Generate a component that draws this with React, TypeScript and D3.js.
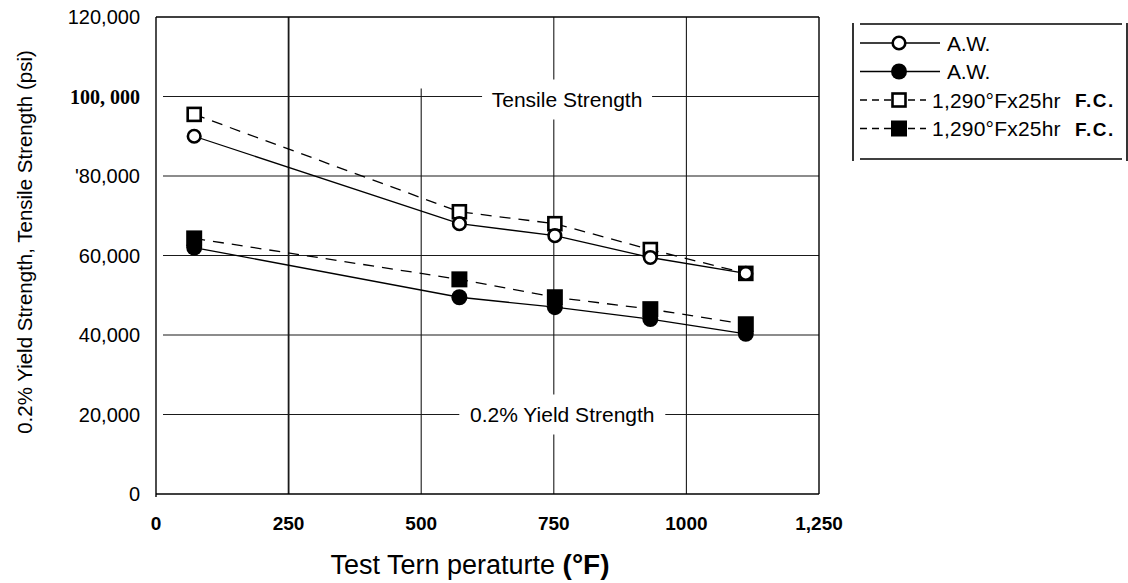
import React from "react";
import * as d3 from "d3";

// --- data ---
const TEMPS = [72, 572, 752, 932, 1112];
const TENSILE_AW = [90000, 68000, 65000, 59500, 55500];
const TENSILE_HT = [95500, 71000, 68000, 61500, 55500];
const YIELD_AW = [62000, 49500, 47000, 44000, 40300];
const YIELD_HT = [64300, 54000, 49500, 46500, 42700];

const X_TICKS = [0, 250, 500, 750, 1000, 1250];
const X_TICK_LABELS = ["0", "250", "500", "750", "1000", "1,250"];
const Y_TICKS = [0, 20000, 40000, 60000, 80000, 100000, 120000];
const Y_TICK_LABELS = ["0", "20,000", "40,000", "60,000", "'80,000", "100, 000", "120,000"];

const LEGEND_LABELS = ["A.W.", "A.W.", "1,290°Fx25hr", "1,290°Fx25hr"];

const W = 1128;
const H = 583;
const SANS = "'Liberation Sans', Arial, Helvetica, sans-serif";

export default function App() {
  const x = d3.scaleLinear().domain([0, 1250]).range([156, 819]);
  const y = d3.scaleLinear().domain([0, 120000]).range([494, 17]);

  const line = d3
    .line<number>()
    .x((_, i) => x(TEMPS[i]))
    .y((d) => y(d));

  const series = [
    { values: TENSILE_HT, dash: "11,8", marker: "sqOpen" },
    { values: TENSILE_AW, dash: null, marker: "ciOpen" },
    { values: YIELD_HT, dash: "11,8", marker: "sqFill" },
    { values: YIELD_AW, dash: null, marker: "ciFill" },
  ];

  const marker = (kind: string, cx: number, cy: number, key: any) => {
    if (kind === "sqOpen")
      return <rect key={key} x={cx - 6.5} y={cy - 6.5} width={13} height={13} fill="#fff" stroke="#000" strokeWidth={2.6} />;
    if (kind === "ciOpen")
      return <circle key={key} cx={cx} cy={cy} r={6.3} fill="#fff" stroke="#000" strokeWidth={2.6} />;
    if (kind === "sqFill")
      return <rect key={key} x={cx - 8} y={cy - 8} width={16} height={16} fill="#000" />;
    return <circle key={key} cx={cx} cy={cy} r={8} fill="#000" />;
  };

  const gridStroke = "#1a1a1a";
  const annos = [
    { text: "Tensile Strength", tx: 775, ty: 100000, w: 170, dy: 3 },
    { text: "0.2% Yield Strength", tx: 766, ty: 20000, w: 206, dy: 0 },
  ];

  return (
    <div style={{ position: "absolute", left: 0, top: 0 }}>
      <svg width={W} height={H} style={{ display: "block", background: "#fff" }}>
        {/* horizontal grid */}
        {Y_TICKS.filter((t) => t > 0 && t < 120000).map((t) => (
          <line key={"h" + t} x1={163} x2={x(1250)} y1={y(t)} y2={y(t)} stroke={gridStroke} strokeWidth={1.2} />
        ))}
        {/* vertical grid */}
        {X_TICKS.filter((t) => t > 0 && t < 1250).map((t) => (
          <line
            key={"v" + t}
            x1={x(t)}
            x2={x(t)}
            y1={t === 500 ? y(102000) : y(120000)}
            y2={y(0)}
            stroke={gridStroke}
            strokeWidth={t === 250 ? 1.8 : 1.1}
          />
        ))}
        {/* frame */}
        <line x1={x(0)} x2={x(1250)} y1={y(120000)} y2={y(120000)} stroke="#000" strokeWidth={1.4} />
        <line x1={x(1250)} x2={x(1250)} y1={y(120000)} y2={y(0)} stroke="#000" strokeWidth={1.4} />
        <line x1={x(0)} x2={x(1250)} y1={y(0)} y2={y(0)} stroke="#000" strokeWidth={1.4} />
        <line x1={x(0)} x2={x(0)} y1={y(120000)} y2={y(0) + 3} stroke="#000" strokeWidth={1.4} />

        {/* in-plot labels */}
        {annos.map((a) => (
          <g key={a.text}>
            <rect x={x(a.tx) - a.w / 2} y={y(a.ty) - 20 + a.dy} width={a.w} height={40} fill="#fff" />
            <text
              x={x(a.tx)}
              y={y(a.ty) + a.dy}
              textAnchor="middle"
              dominantBaseline="central"
              fontFamily={SANS}
              fontSize={21}
              fill="#000"
            >
              {a.text}
            </text>
          </g>
        ))}

        {/* series */}
        {series.map((s, si) => (
          <path
            key={"p" + si}
            d={line(s.values) || ""}
            fill="none"
            stroke="#000"
            strokeWidth={1.3}
            strokeDasharray={s.dash || undefined}
          />
        ))}
        {series.map((s, si) => s.values.map((v, i) => marker(s.marker, x(TEMPS[i]), y(v), si + "-" + i)))}

        {/* y ticks */}
        {Y_TICKS.map((t, i) => (
          <text
            key={"yt" + t}
            x={140}
            y={y(t)}
            textAnchor="end"
            dominantBaseline="central"
            fontFamily={t === 100000 ? "'Liberation Serif', 'Times New Roman', serif" : SANS}
            fontWeight={t === 100000 ? "bold" : "normal"}
            fontSize={20}
            fill="#000"
          >
            {Y_TICK_LABELS[i]}
          </text>
        ))}
        {/* x ticks */}
        {X_TICKS.map((t, i) => (
          <text
            key={"xt" + t}
            x={x(t)}
            y={523}
            textAnchor="middle"
            dominantBaseline="central"
            fontFamily={SANS}
            fontWeight="bold"
            fontSize={19}
            fill="#000"
          >
            {X_TICK_LABELS[i]}
          </text>
        ))}

        {/* axis titles */}
        <text
          transform="translate(24,242) rotate(-90)"
          textAnchor="middle"
          dominantBaseline="central"
          fontFamily={SANS}
          fontSize={20.5}
          fill="#000"
        >
          0.2% Yield Strength, Tensile Strength (psi)
        </text>
        <text x={470} y={574} textAnchor="middle" fontFamily={SANS} fontSize={27} fill="#000">
          Test Tern peraturte{" "}
          <tspan fontWeight="bold" fontSize={28}>(°F)</tspan>
        </text>

        {/* legend */}
        <g>
          <line x1={853} x2={853} y1={23} y2={161} stroke="#000" strokeWidth={1.6} />
          <line x1={1127} x2={1127} y1={23} y2={161} stroke="#000" strokeWidth={1.6} />
          <line x1={860} x2={1122} y1={24} y2={24} stroke="#000" strokeWidth={1.6} />
          <line x1={860} x2={1122} y1={159} y2={159} stroke="#000" strokeWidth={1.6} />
          {series
            .map((s, si) => ({ s, si }))
            .sort((a, b) => [1, 3, 0, 2].indexOf(a.si) - [1, 3, 0, 2].indexOf(b.si))
            .map(({ s }, row) => {
              const ry = 43 + row * 28.5;
              const dashed = !!s.dash;
              return (
                <g key={"lg" + row}>
                  <line
                    x1={860}
                    x2={dashed ? 926 : 940}
                    y1={ry}
                    y2={ry}
                    stroke="#000"
                    strokeWidth={1.3}
                    strokeDasharray={dashed ? "7,5" : undefined}
                  />
                  {marker(s.marker, 899, ry, "lm" + row)}
                  <text
                    x={dashed ? 932 : 947}
                    y={ry}
                    dominantBaseline="central"
                    fontFamily={SANS}
                    fontSize={21}
                    letterSpacing={dashed ? 0.2 : -0.3}
                    fill="#000"
                  >
                    {LEGEND_LABELS[row]}
                    {dashed && (
                      <tspan x={1075} fontWeight="bold" fontSize={19} letterSpacing={1.5}>
                        F.C.
                      </tspan>
                    )}
                  </text>
                </g>
              );
            })}
        </g>
      </svg>
    </div>
  );
}
